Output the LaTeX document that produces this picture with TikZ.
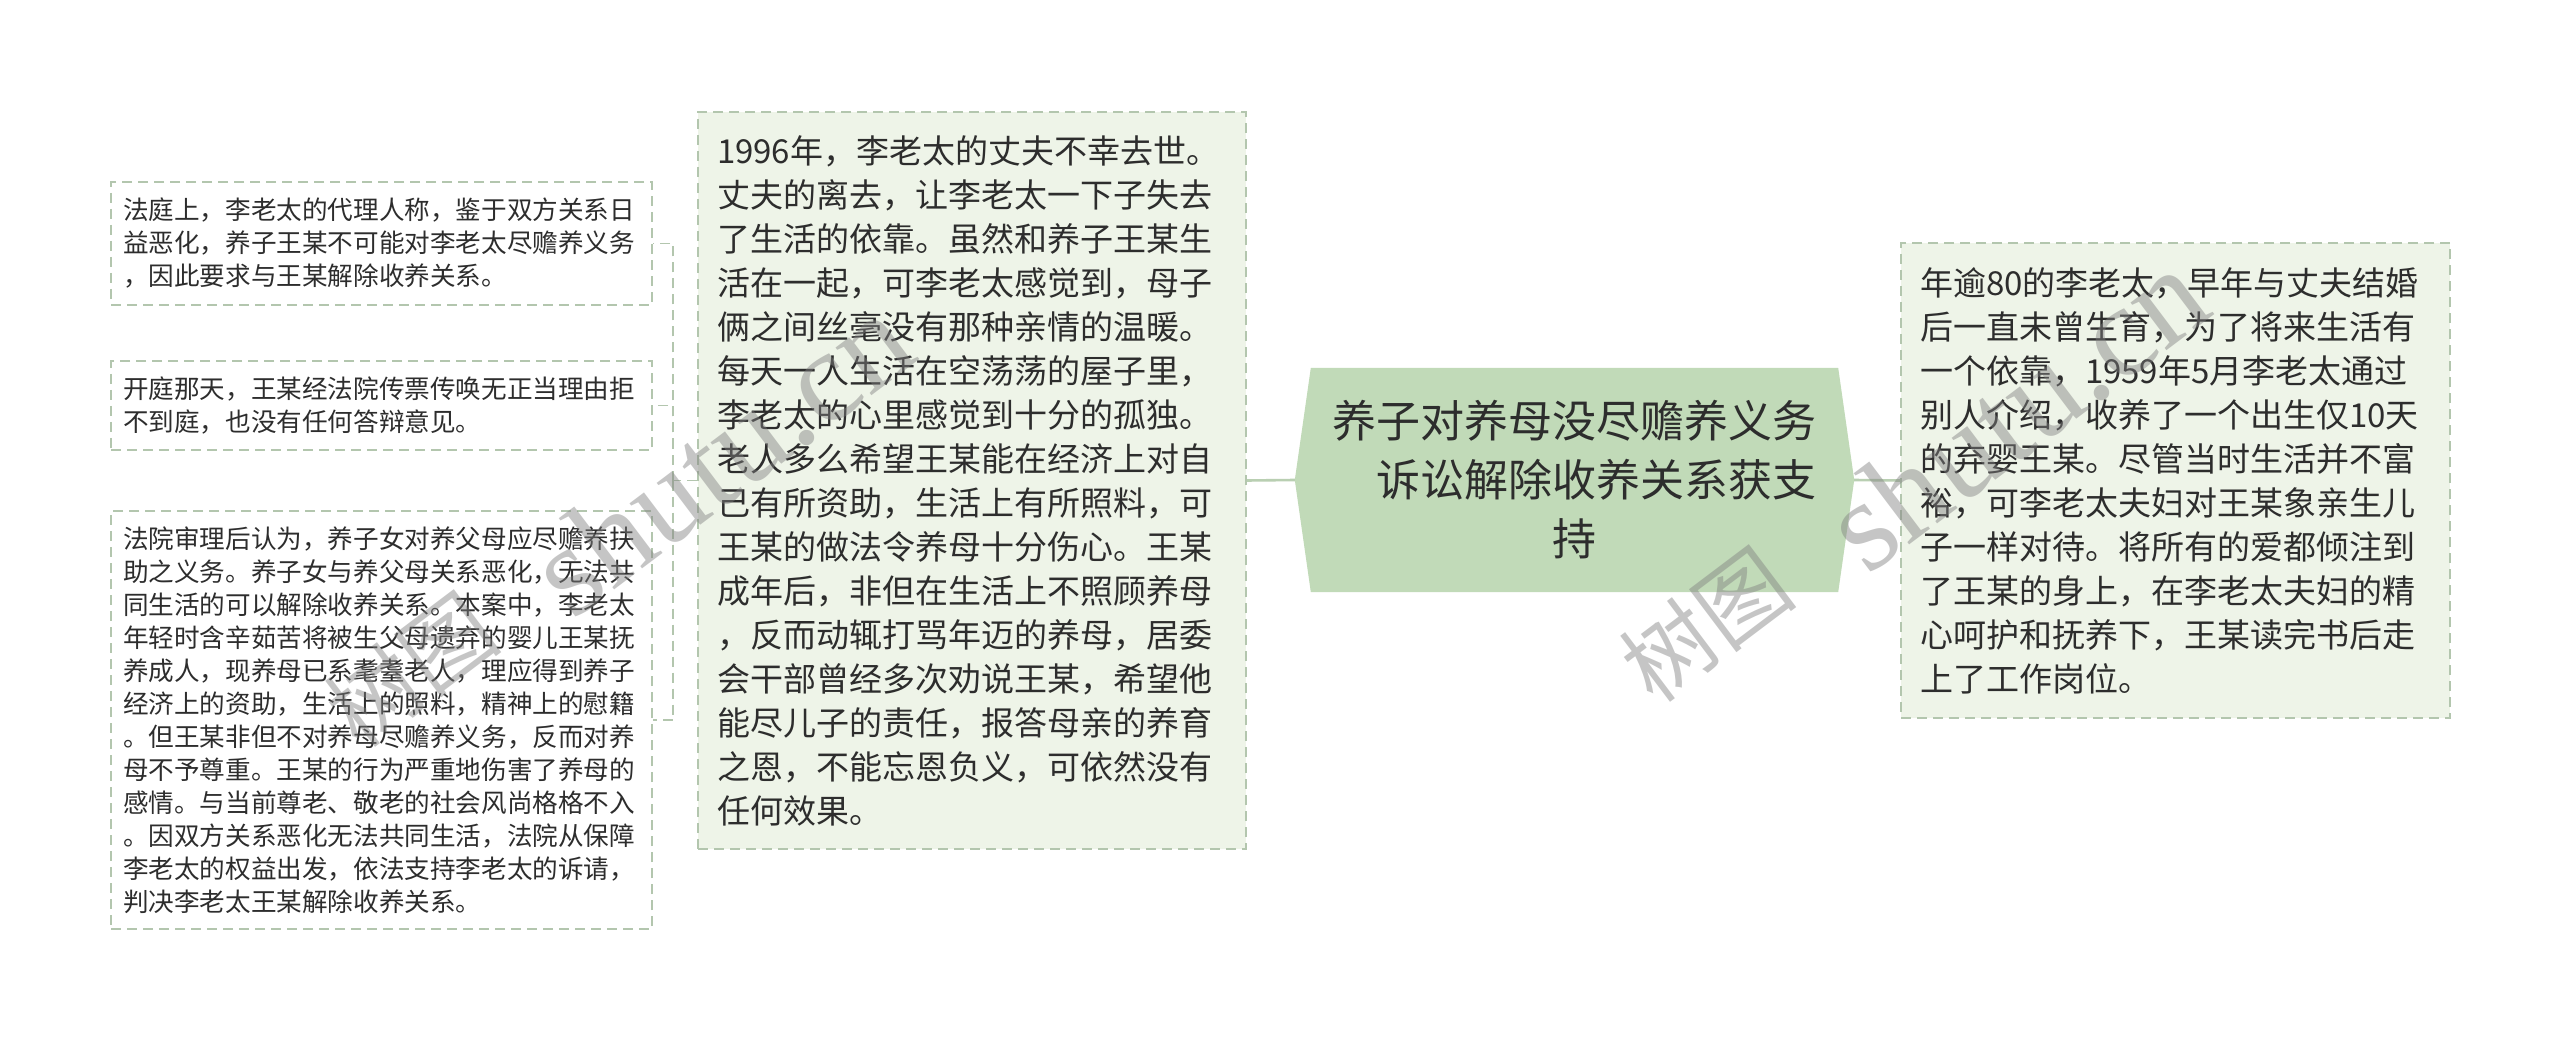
\documentclass[tikz,border=0pt]{standalone}
\usepackage{fontspec}
\setmainfont{Noto Sans CJK SC}
\newfontfamily\wmlatin{Liberation Serif}
\usetikzlibrary{backgrounds}
\definecolor{bordc}{HTML}{B3C6AE}
\definecolor{lightfill}{HTML}{EEF4E8}
\definecolor{rootfill}{HTML}{C1DAB8}
\definecolor{linkc}{HTML}{B9CFB2}
\definecolor{txt}{HTML}{2D2D2D}
\tikzset{
  boxbase/.style={draw=bordc, dash pattern=on 10pt off 6pt, line width=1.6pt, inner ysep=0pt, align=left, text=txt},
  leafbox/.style={boxbase, fill=white, inner xsep=12pt, text width=517pt, minimum height=#1,
    font=\fontsize{25.6pt}{33pt}\selectfont},
  infobox/.style={boxbase, fill=lightfill, inner xsep=19pt, text width=510pt, minimum height=#1,
    font=\fontsize{33pt}{44pt}\selectfont},
  rootnode/.style={inner sep=0pt, minimum width=527pt, minimum height=224pt, align=center, text=txt,
    font=\fontsize{44pt}{59pt}\selectfont},
  link/.style={draw=linkc, line width=2.6pt},
  treelink/.style={draw=bordc, line width=1.6pt, dash pattern=on 10pt off 6pt},
  wm/.style={rotate=37, inner sep=0pt, text=gray, text opacity=0.45}
}
\begin{document}
\begin{tikzpicture}[x=1pt, y=-1pt]
\useasboundingbox (0,0) rectangle (2560,1040);

% root
\node[rootnode] (root) at (1574.5,480) {养子对养母没尽赡养义务\\\hspace*{1em}诉讼解除收养关系获支\\持};

% middle info box
\node[infobox=737pt] (mid) at (972,480.5) {1996年，李老太的丈夫不幸去世。\\
丈夫的离去，让李老太一下子失去\\
了生活的依靠。虽然和养子王某生\\
活在一起，可李老太感觉到，母子\\
俩之间丝毫没有那种亲情的温暖。\\
每天一人生活在空荡荡的屋子里，\\
李老太的心里感觉到十分的孤独。\\
老人多么希望王某能在经济上对自\\
己有所资助，生活上有所照料，可\\
王某的做法令养母十分伤心。王某\\
成年后，非但在生活上不照顾养母\\
，反而动辄打骂年迈的养母，居委\\
会干部曾经多次劝说王某，希望他\\
能尽儿子的责任，报答母亲的养育\\
之恩，不能忘恩负义，可依然没有\\
任何效果。};

% right info box
\node[infobox=475pt, text width=511pt] (right) at (2175.5,480.5) {年逾80的李老太，早年与丈夫结婚\\
后一直未曾生育，为了将来生活有\\
一个依靠，1959年5月李老太通过\\
别人介绍，收养了一个出生仅10天\\
的弃婴王某。尽管当时生活并不富\\
裕，可李老太夫妇对王某象亲生儿\\
子一样对待。将所有的爱都倾注到\\
了王某的身上，在李老太夫妇的精\\
心呵护和抚养下，王某读完书后走\\
上了工作岗位。};

% left leaf boxes
\node[leafbox=123pt] (b1) at (381.5,243.5) {法庭上，李老太的代理人称，鉴于双方关系日\\
益恶化，养子王某不可能对李老太尽赡养义务\\
，因此要求与王某解除收养关系。};

\node[leafbox=89pt] (b2) at (381.5,405.5) {开庭那天，王某经法院传票传唤无正当理由拒\\
不到庭，也没有任何答辩意见。};

\node[leafbox=418pt] (b3) at (381.5,720) {法院审理后认为，养子女对养父母应尽赡养扶\\
助之义务。养子女与养父母关系恶化，无法共\\
同生活的可以解除收养关系。本案中，李老太\\
年轻时含辛茹苦将被生父母遗弃的婴儿王某抚\\
养成人，现养母已系耄耋老人，理应得到养子\\
经济上的资助，生活上的照料，精神上的慰籍\\
。但王某非但不对养母尽赡养义务，反而对养\\
母不予尊重。王某的行为严重地伤害了养母的\\
感情。与当前尊老、敬老的社会风尚格格不入\\
。因双方关系恶化无法共同生活，法院从保障\\
李老太的权益出发，依法支持李老太的诉请，\\
判决李老太王某解除收养关系。};

% background and root shape
\begin{scope}[on background layer]
  \fill[white] (0,0) rectangle (2560,1040);
  \fill[rootfill] (root.north west) -- (root.north east) -- ([xshift=16pt]root.east)
    -- (root.south east) -- (root.south west) -- ([xshift=-16pt]root.west) -- cycle;
\end{scope}

% connectors
\draw[link] (mid.east) -- ([xshift=-16pt]root.west);
\draw[link] ([xshift=16pt]root.east) -- (right.west);
\coordinate (j) at (673,480.5);
\draw[treelink] (mid.west) -- (j);
\draw[treelink] (j) |- (b1.east);
\draw[treelink] (j) |- (b2.east);
\draw[treelink] (j) |- (b3.east);

% watermarks
\node[wm, font=\fontsize{90pt}{90pt}\selectfont] (wmA1) at (411,669) {树图};
\node[wm, font=\wmlatin\fontsize{130pt}{130pt}\selectfont] (wmA2) at (720,455) {shutu.cn};
\node[wm, font=\fontsize{90pt}{90pt}\selectfont] (wmB1) at (1706,624) {树图};
\node[wm, font=\wmlatin\fontsize{130pt}{130pt}\selectfont] (wmB2) at (2015,410) {shutu.cn};
\end{tikzpicture}
\end{document}
